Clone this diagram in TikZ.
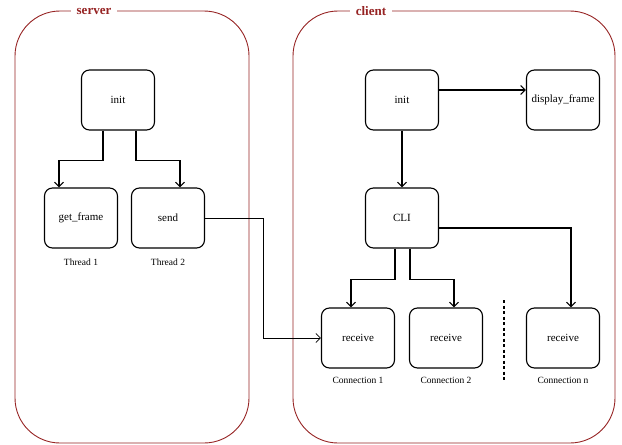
\documentclass[tikz,border=0pt]{standalone}
\usepackage{fontspec}
\setmainfont{Liberation Serif}
\usetikzlibrary{arrows.meta,calc}
\definecolor{frame}{RGB}{150,35,35}
\tikzset{
  box/.style={draw, rounded corners=8pt, minimum width=73pt, minimum height=60pt,
    line width=1.1pt, inner sep=0pt, font=\fontsize{11}{13}\selectfont},
  container/.style={draw=frame, line width=0.9pt, rounded corners=45pt},
  ctitle/.style={fill=white, text=frame, font=\fontsize{13}{15}\selectfont\bfseries, inner xsep=6pt, inner ysep=1pt},
  caption/.style={font=\fontsize{9.5}{11}\selectfont},
  arr/.style={line width=1.1pt, -{Straight Barb[length=4.5pt,width=9pt]}},
  thinarr/.style={line width=0.8pt, -{Straight Barb[length=4.5pt,width=9pt]}}
}
\begin{document}
\begin{tikzpicture}[x=1pt,y=-1pt]
\useasboundingbox (0,0) rectangle (622,445);
% containers
\draw[container] (15,11) rectangle (249,443);
\draw[container] (293,11) rectangle (615,443);
\node[ctitle] (tserver) at (94,11) {server};
\node[ctitle] (tclient) at (371,11) {client};
% server nodes
\node[box] (sinit) at (118,100) {init};
\node[box] (getf) at (81,218) {get\_frame};
\node[box] (send) at (168,218) {send};
\node[caption] (th1) at (81,262) {Thread 1};
\node[caption] (th2) at (168,262) {Thread 2};
% client nodes
\node[box] (cinit) at (402,100) {init};
\node[box] (disp) at (563,100) {display\_frame};
\node[box] (cli) at (402,218) {CLI};
\node[box] (rec1) at (358,338) {receive};
\node[box] (rec2) at (446,338) {receive};
\node[box] (recn) at (563,338) {receive};
\node[caption] (c1) at (358,380) {Connection 1};
\node[caption] (c2) at (446,380) {Connection 2};
\node[caption] (cn) at (563,380) {Connection n};
% dashed separator
\coordinate (dtop) at (504,300);
\coordinate (dbot) at (504,380);
\draw[line width=1.1pt, dash pattern=on 3pt off 2.5pt] (dtop) -- (dbot);
% server connectors
\draw[arr] ([xshift=-15pt]sinit.south) -- ++(0,30) -| ([xshift=-22pt]getf.north);
\draw[arr] ([xshift=18pt]sinit.south) -- ++(0,30) -| ([xshift=12pt]send.north);
\draw[thinarr] (send.east) -- ++(58,0) |- (rec1.west);
% client connectors
\draw[arr] ([yshift=10pt]cinit.east) -- ([yshift=10pt]disp.west);
\draw[arr] (cinit.south) -- (cli.north);
\draw[arr] ([yshift=-10pt]cli.east) -| ([xshift=8pt]recn.north);
\draw[arr] ([xshift=-7pt]cli.south) -- ++(0,31) -| ([xshift=-7pt]rec1.north);
\draw[arr] ([xshift=8pt]cli.south) -- ++(0,31) -| ([xshift=8pt]rec2.north);
\end{tikzpicture}
\end{document}
